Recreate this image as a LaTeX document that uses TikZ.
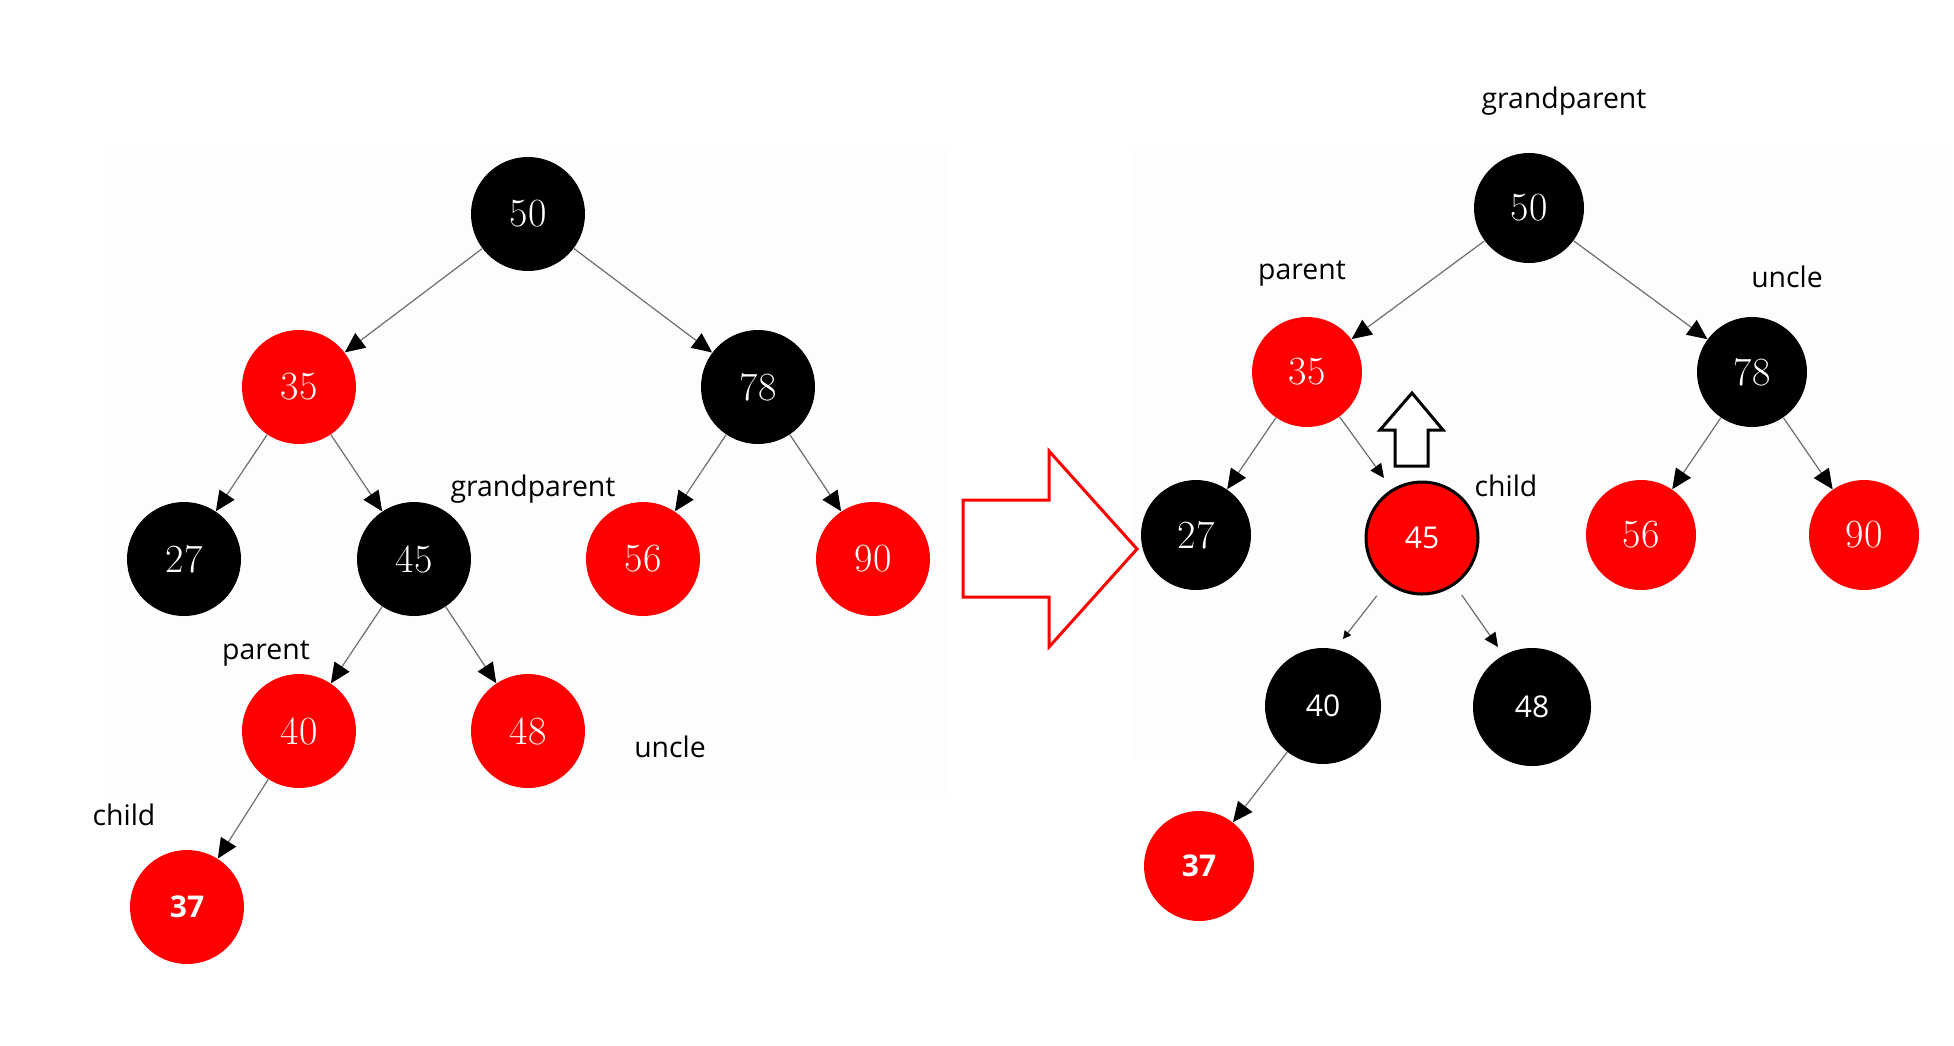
\documentclass[tikz,border=0pt]{standalone}
\usepackage{fontspec}
\usetikzlibrary{arrows.meta}
\newfontfamily\labfont{Open Sans}
\definecolor{pure}{RGB}{255,0,0}
\definecolor{edgegray}{RGB}{110,110,110}
\definecolor{bgfaint}{RGB}{253,253,253}
\tikzset{
  nd/.style={circle, inner sep=0pt, minimum size=57pt, text=white, font=\fontsize{20}{20}\selectfont},
  ndr/.style={nd, minimum size=55pt},
  rednode/.style={fill=pure},
  blacknode/.style={fill=black},
  sansdig/.style={font=\labfont\fontsize{15}{15}\selectfont},
  boldsans/.style={font=\labfont\bfseries\fontsize{15}{15}\selectfont},
  lbl/.style={font=\labfont\fontsize{14.2}{14.2}\selectfont, inner sep=0pt},
  edge/.style={draw=edgegray, line width=0.6pt, -{Triangle[length=10pt,width=9pt,color=black]}},
  edgemid/.style={draw=edgegray, line width=0.6pt, -{Triangle[length=7pt,width=6.5pt,color=black]}},
  edgetiny/.style={draw=edgegray, line width=0.6pt, -{Triangle[length=4pt,width=4pt,color=black]}},
  bigarrow/.style={draw=pure, line width=1.5pt, line join=miter},
  uparrow/.style={draw=black, line width=1.5pt, fill=white, line join=miter}
}
\begin{document}
\begin{tikzpicture}[x=0.5pt,y=-0.5pt]
\useasboundingbox (0,0) rectangle (1954,1045);
% faint backgrounds
\fill[bgfaint] (110,150) rectangle (948,794);
\fill[bgfaint] (1133,150) rectangle (1950,760);

% ---------- left tree ----------
\node[nd,blacknode] (L50) at (528,214) {50};
\node[nd,rednode]   (L35) at (299,387) {35};
\node[nd,blacknode] (L78) at (758,387) {78};
\node[nd,blacknode] (L27) at (184,559) {27};
\node[nd,blacknode] (L45) at (414,559) {45};
\node[nd,rednode]   (L56) at (643,559) {56};
\node[nd,rednode]   (L90) at (873,559) {90};
\node[nd,rednode]   (L40) at (299,731) {40};
\node[nd,rednode]   (L48) at (528,731) {48};
\node[nd,rednode,boldsans] (L37) at (187,907) {37};

\draw[edge] (L50) -- (L35);
\draw[edge] (L50) -- (L78);
\draw[edge] (L35) -- (L27);
\draw[edge] (L35) -- (L45);
\draw[edge] (L78) -- (L56);
\draw[edge] (L78) -- (L90);
\draw[edge] (L45) -- (L40);
\draw[edge] (L45) -- (L48);
\draw[edge] (L40) -- (L37);

\node[lbl] (Lgp) at (533,489) {grandparent};
\node[lbl] (Lpa) at (266,654) {parent};
\node[lbl] (Lun) at (670,747) {uncle};
\node[lbl] (Lch) at (124,815) {child};

% ---------- big red arrow ----------
\draw[bigarrow] (963,500) -- (1049,500) -- (1049,451) -- (1137,549) -- (1049,647) -- (1049,597) -- (963,597) -- cycle;

% ---------- right tree ----------
\node[ndr,blacknode] (R50) at (1529,208) {50};
\node[ndr,rednode]   (R35) at (1307,372) {35};
\node[ndr,blacknode] (R78) at (1752,372) {78};
\node[ndr,blacknode] (R27) at (1196,535) {27};
\node[ndr,rednode,sansdig,draw=black,line width=1.5pt,minimum size=56pt] (R45) at (1422,538) {45};
\node[ndr,rednode]   (R56) at (1641,535) {56};
\node[ndr,rednode]   (R90) at (1864,535) {90};
\node[ndr,blacknode,sansdig,minimum size=58pt] (R40) at (1323,706) {40};
\node[ndr,blacknode,sansdig,minimum size=59pt] (R48) at (1532,707) {48};
\node[ndr,rednode,boldsans] (R37) at (1199,866) {37};

\coordinate (t45) at (1384,478);
\coordinate (t40) at (1343,639);
\coordinate (t48) at (1498,647);

\draw[edge] (R50) -- (R35);
\draw[edge] (R50) -- (R78);
\draw[edge] (R35) -- (R27);
\draw[edgemid] (R35) -- (t45);
\draw[edge] (R78) -- (R56);
\draw[edge] (R78) -- (R90);
\draw[edgetiny, shorten <=8pt] (R45) -- (t40);
\draw[edgemid, shorten <=6pt] (R45) -- (t48);
\draw[edge] (R40) -- (R37);

\draw[uparrow] (1395,466) -- (1395,430) -- (1380,430) -- (1412,393) -- (1443,430) -- (1428,430) -- (1428,466) -- cycle;

\node[lbl] (Rgp) at (1564,101) {grandparent};
\node[lbl] (Rpa) at (1302,274) {parent};
\node[lbl] (Run) at (1787,277) {uncle};
\node[lbl] (Rch) at (1506,486) {child};
\end{tikzpicture}
\end{document}
